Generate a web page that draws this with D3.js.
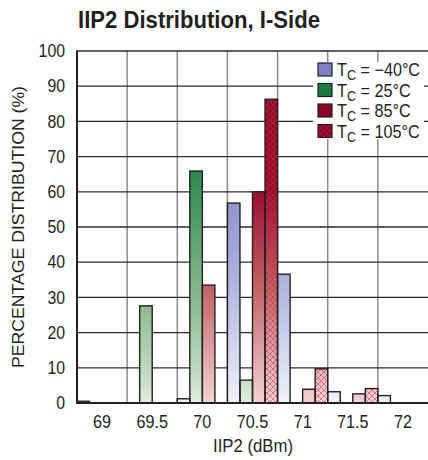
<!DOCTYPE html>
<html>
<head>
<meta charset="utf-8">
<script src="https://cdn.jsdelivr.net/npm/d3@7"></script>
<style>
  html, body { margin: 0; padding: 0; background: #fff; }
  svg { display: block; }
  text { font-family: "Liberation Sans", Arial, sans-serif; fill: #231f20; }
</style>
</head>
<body>
<svg id="chart" width="428" height="460"></svg>
<script>
// ---- data ----
const categories = [69, 69.5, 70, 70.5, 71, 71.5, 72];
const tickLabels = ["69", "69.5", "70", "70.5", "71", "71.5", "72"];
const seriesNames = ["\u221240\u00B0C", "25\u00B0C", "85\u00B0C", "105\u00B0C"];
const tcMinus40 = [0.5, 0, 1.2, 56.8, 36.6, 3.2, 2.1];
const tc25      = [0, 27.6, 65.9, 6.5, 0, 0, 0];
const tc85      = [0, 0, 33.5, 60.0, 3.9, 2.6, 0];
const tc105     = [0, 0, 0, 86.3, 9.7, 4.1, 0];
const yTicks = [0, 10, 20, 30, 40, 50, 60, 70, 80, 90, 100];

const seriesValues = [tcMinus40, tc25, tc85, tc105];

// ---- layout ----
const svg = d3.select("#chart");
const pLeft = 77, pRight = 428, pTop = 51, pBottom = 403;
const SQ = 0.88; // horizontal condensation for the narrow typeface look

const x = d3.scaleBand().domain(categories).range([pLeft, pRight]).padding(0);
const xs = d3.scaleBand().domain(d3.range(seriesNames.length)).range([0, x.bandwidth()]).padding(0);
const y = d3.scaleLinear().domain([0, 100]).range([pBottom, pTop]);

const defs = svg.append("defs");
function grad(id, stops) {
  const g = defs.append("linearGradient").attr("id", id)
    .attr("gradientUnits", "userSpaceOnUse")
    .attr("x1", 0).attr("x2", 0).attr("y1", y(100)).attr("y2", y(0));
  stops.forEach(([v, c]) => g.append("stop").attr("offset", (100 - v) / 100).attr("stop-color", c));
}
grad("gBlue",  [[100, "#7a82c2"], [57, "#8e95cf"], [36.5, "#aab0dc"], [0, "#f0f1f9"]]);
grad("gGreen", [[100, "#1a7a40"], [66, "#2e8a52"], [27.5, "#8fbb90"], [6.5, "#c6dec6"], [0, "#e2efe2"]]);
grad("gRed",   [[100, "#8c0626"], [60, "#9c0e30"], [33.5, "#c26062"], [0, "#f3d4d4"]]);

const pat = defs.append("pattern").attr("id", "hatch")
  .attr("patternUnits", "userSpaceOnUse").attr("width", 6).attr("height", 6);
pat.append("path").attr("d", "M0,0L6,6M6,0L0,6M-1,5L1,7M5,-1L7,1")
  .attr("stroke", "#c8284a").attr("stroke-width", 0.75).attr("opacity", 0.7);

const fills = ["url(#gBlue)", "url(#gGreen)", "url(#gRed)", "url(#gRed)"];
const hatched = [false, false, false, true];

// ---- grid ----
const grid = svg.append("g");
grid.selectAll("line.v").data(categories.slice(1)).join("line")
  .attr("x1", d => x(d)).attr("x2", d => x(d))
  .attr("y1", pTop).attr("y2", pBottom)
  .attr("stroke", "#8c8c8c").attr("stroke-width", 1.5);
grid.selectAll("line.h").data(yTicks.filter(t => t > 0)).join("line")
  .attr("x1", pLeft).attr("x2", pRight)
  .attr("y1", d => y(d)).attr("y2", d => y(d))
  .attr("stroke", "#2a2a2a").attr("stroke-width", 1.3);

// ---- legend background (covers grid) ----
svg.append("rect").attr("x", 313).attr("y", 62).attr("width", 111).attr("height", 77).attr("fill", "#fff");

// ---- bars ----
const bars = [];
seriesValues.forEach((vals, si) => {
  vals.forEach((v, ci) => { if (v > 0) bars.push({ si, c: categories[ci], v }); });
});
const barG = svg.append("g");
barG.selectAll("rect.fill").data(bars).join("rect")
  .attr("x", d => x(d.c) + xs(d.si)).attr("width", xs.bandwidth())
  .attr("y", d => y(d.v)).attr("height", d => y(0) - y(d.v))
  .attr("fill", d => fills[d.si]);
barG.selectAll("rect.hatch").data(bars.filter(d => hatched[d.si])).join("rect")
  .attr("x", d => x(d.c) + xs(d.si)).attr("width", xs.bandwidth())
  .attr("y", d => y(d.v)).attr("height", d => y(0) - y(d.v))
  .attr("fill", "url(#hatch)");
barG.selectAll("rect.outline").data(bars).join("rect")
  .attr("x", d => x(d.c) + xs(d.si)).attr("width", xs.bandwidth())
  .attr("y", d => y(d.v)).attr("height", d => y(0) - y(d.v))
  .attr("fill", "none").attr("stroke", "#231f20").attr("stroke-width", 1.4);

// ---- axes lines ----
svg.append("line").attr("x1", pLeft).attr("x2", pLeft).attr("y1", pTop - 0.5).attr("y2", pBottom + 1)
  .attr("stroke", "#231f20").attr("stroke-width", 2);
svg.append("line").attr("x1", pLeft).attr("x2", pRight).attr("y1", pBottom).attr("y2", pBottom)
  .attr("stroke", "#231f20").attr("stroke-width", 2);

// ---- axis labels via d3 axes ----
const yAxis = d3.axisLeft(y).tickValues(yTicks).tickSize(0).tickPadding(12);
const yg = svg.append("g").attr("transform", `translate(${pLeft},0)`).call(yAxis);
yg.select(".domain").remove();
yg.selectAll("text").style("font-size", "18px").attr("fill", "#231f20")
  .style("font-family", '"Liberation Sans", Arial, sans-serif')
  .attr("x", -12 / SQ).attr("transform", `scale(${SQ},1)`);

const xAxis = d3.axisBottom(x).tickFormat((d, i) => tickLabels[i]).tickSize(0).tickPadding(12);
const xg = svg.append("g").attr("transform", `translate(0,${pBottom})`).call(xAxis);
xg.select(".domain").remove();
xg.selectAll("text").style("font-size", "18px").attr("fill", "#231f20")
  .style("font-family", '"Liberation Sans", Arial, sans-serif')
  .attr("transform", `scale(0.9,1)`);

// ---- titles ----
svg.append("text").attr("x", 78).attr("y", 28)
  .style("font-size", "24.5px").style("font-weight", "bold")
  .attr("textLength", 242).attr("lengthAdjust", "spacingAndGlyphs")
  .text("IIP2 Distribution, I-Side");
svg.append("text").attr("x", 213).attr("y", 452)
  .style("font-size", "17.5px")
  .attr("textLength", 80).attr("lengthAdjust", "spacingAndGlyphs")
  .text("IIP2 (dBm)");
svg.append("text").attr("transform", `translate(24,${(pTop + pBottom) / 2}) rotate(-90)`)
  .attr("x", -141).style("font-size", "17px")
  .attr("textLength", 282).attr("lengthAdjust", "spacingAndGlyphs")
  .text("PERCENTAGE DISTRIBUTION (%)");

// ---- legend ----
const lg = svg.append("g");
const rowY = [69.5, 90, 110.5, 131];
seriesNames.forEach((name, i) => {
  const g = lg.append("g").attr("transform", `translate(318,${rowY[i]})`);
  g.append("rect").attr("x", 0).attr("y", -6.5).attr("width", 14).attr("height", 13)
    .attr("fill", fills[i]);
  if (hatched[i]) g.append("rect").attr("x", 0).attr("y", -6.5).attr("width", 14).attr("height", 13).attr("fill", "url(#hatch)");
  g.append("rect").attr("x", 0).attr("y", -6.5).attr("width", 14).attr("height", 13)
    .attr("fill", "none").attr("stroke", "#231f20").attr("stroke-width", 1.2);
  const t = g.append("text").attr("transform", `translate(19,6.5) scale(0.9,1)`)
    .style("font-size", "18px");
  t.append("tspan").text("T");
  t.append("tspan").attr("dy", 4).style("font-size", "14px").text("C");
  t.append("tspan").attr("dy", -4).text(" = " + name);
});
</script>
</body>
</html>
